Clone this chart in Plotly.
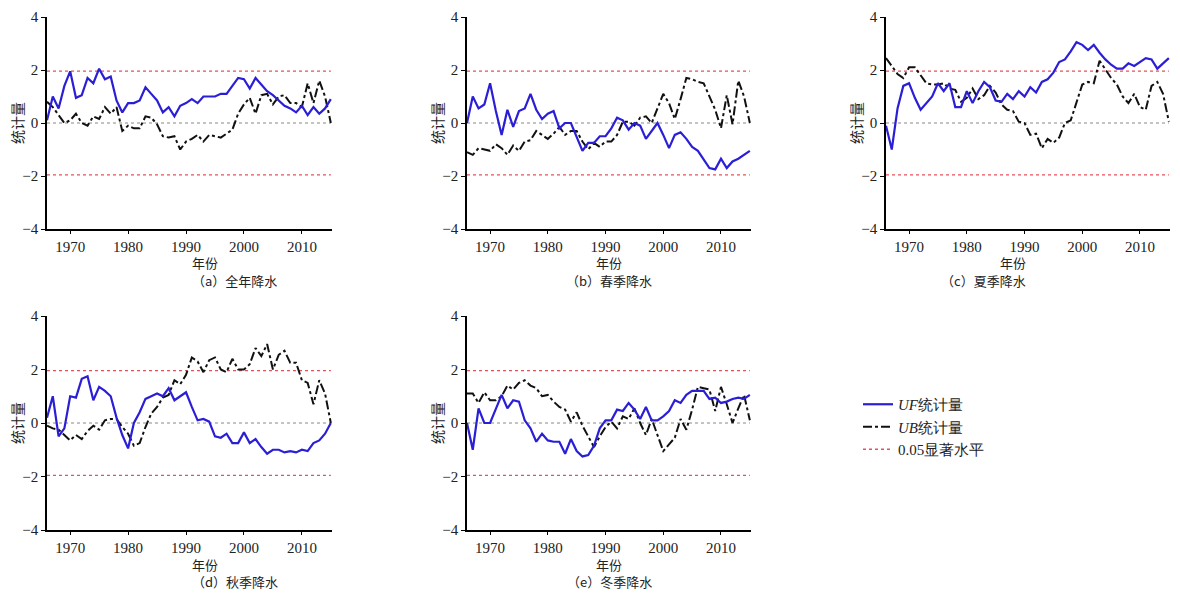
import plotly.graph_objects as go

years = list(range(1966, 2016))

uf_a = [0.1, 1.0, 0.55, 1.4, 1.95, 0.95, 1.05, 1.7, 1.5, 2.05, 1.65, 1.75, 0.85, 0.4, 0.75, 0.75, 0.85, 1.35, 1.1, 0.85,
        0.4, 0.6, 0.25, 0.65, 0.75, 0.9, 0.75, 1.0, 1.0, 1.0, 1.1, 1.1, 1.4, 1.7, 1.65, 1.3, 1.7, 1.45, 1.2, 1.05,
        0.85, 0.65, 0.55, 0.4, 0.65, 0.3, 0.6, 0.35, 0.55, 0.9]
ub_a = [0.8, 0.6, 0.3, 0.0, 0.1, 0.35, 0.0, -0.1, 0.25, 0.15, 0.6, 0.35, 0.6, -0.3, -0.1, -0.2, -0.2, 0.25, 0.2, -0.05,
        -0.5, -0.55, -0.5, -1.0, -0.7, -0.6, -0.45, -0.7, -0.45, -0.5, -0.55, -0.4, -0.25, 0.35, 0.7, 0.95, 0.35, 1.05, 1.1, 0.7,
        1.0, 1.05, 0.75, 0.75, 0.6, 1.5, 0.75, 1.6, 1.0, 0.0]

uf_b = [0.0, 1.0, 0.55, 0.7, 1.5, 0.45, -0.45, 0.5, -0.15, 0.45, 0.55, 1.1, 0.5, 0.15, 0.35, 0.45, -0.2, 0.0, 0.0, -0.5,
        -1.05, -0.75, -0.75, -0.5, -0.5, -0.2, 0.2, 0.1, -0.25, 0.0, -0.1, -0.6, -0.3, 0.0, -0.45, -0.95, -0.45, -0.35, -0.6, -0.9,
        -1.05, -1.4, -1.7, -1.75, -1.35, -1.7, -1.45, -1.35, -1.2, -1.05]
ub_b = [-1.1, -1.2, -0.95, -1.0, -1.05, -0.8, -0.95, -1.2, -0.85, -1.05, -0.7, -0.65, -0.3, -0.45, -0.6, -0.4, -0.15, -0.45, -0.3, -0.3,
        -0.7, -1.0, -0.75, -0.9, -0.7, -0.7, -0.45, 0.05, 0.05, -0.1, 0.2, 0.25, 0.0, 0.55, 1.1, 0.75, 0.15, 0.9, 1.7, 1.65,
        1.55, 1.5, 1.0, 0.5, -0.2, 1.05, -0.05, 1.6, 1.0, 0.0]

uf_c = [-0.1, -1.0, 0.55, 1.4, 1.5, 0.95, 0.5, 0.75, 1.0, 1.5, 1.2, 1.5, 0.6, 0.6, 1.2, 0.75, 1.2, 1.55, 1.35, 0.85,
        0.8, 1.1, 0.9, 1.2, 1.0, 1.35, 1.15, 1.55, 1.65, 1.9, 2.3, 2.4, 2.7, 3.05, 2.95, 2.75, 2.95, 2.65, 2.4, 2.2,
        2.05, 2.05, 2.25, 2.15, 2.3, 2.45, 2.4, 2.05, 2.25, 2.45]
ub_c = [2.45, 2.15, 1.85, 1.7, 2.1, 2.1, 1.8, 1.5, 1.45, 1.45, 1.5, 1.3, 1.25, 0.8, 0.95, 1.3, 0.9, 1.05, 1.4, 1.15,
        0.7, 0.5, 0.45, 0.05, 0.0, -0.45, -0.4, -0.95, -0.6, -0.75, -0.55, 0.0, 0.1, 0.75, 1.45, 1.55, 1.5, 2.35, 2.0, 1.7,
        1.45, 1.0, 0.75, 1.1, 0.6, 0.5, 1.4, 1.55, 1.1, 0.05]

uf_d = [0.2, 1.0, -0.5, -0.2, 1.0, 0.95, 1.65, 1.75, 0.85, 1.35, 1.2, 1.0, 0.2, -0.45, -0.95, 0.0, 0.4, 0.9, 1.0, 1.1,
        1.0, 1.3, 0.85, 1.0, 1.15, 0.6, 0.1, 0.15, 0.05, -0.5, -0.55, -0.4, -0.75, -0.75, -0.35, -0.75, -0.6, -0.9, -1.15, -1.0,
        -1.0, -1.1, -1.05, -1.1, -1.0, -1.05, -0.75, -0.65, -0.4, 0.0]
ub_d = [-0.1, -0.2, -0.25, -0.45, -0.65, -0.45, -0.6, -0.3, -0.1, -0.25, 0.1, 0.15, 0.15, -0.15, -0.4, -0.85, -0.75, -0.15, 0.35, 0.6,
        0.95, 1.05, 1.6, 1.45, 1.8, 2.45, 2.3, 1.9, 2.35, 2.45, 2.0, 1.9, 2.4, 2.0, 2.0, 2.2, 2.8, 2.5, 2.95, 2.0,
        2.55, 2.7, 2.25, 2.25, 1.6, 1.5, 0.7, 1.6, 1.1, 0.0]

uf_e = [0.0, -1.0, 0.55, 0.0, 0.0, 0.5, 1.05, 0.55, 0.85, 0.8, 0.1, -0.2, -0.7, -0.4, -0.65, -0.7, -0.7, -1.15, -0.6, -1.05,
        -1.25, -1.2, -0.85, -0.2, 0.1, 0.1, 0.5, 0.45, 0.75, 0.5, 0.15, 0.6, 0.1, 0.1, 0.25, 0.45, 0.85, 0.75, 1.05, 1.2,
        1.2, 1.2, 0.9, 0.95, 0.75, 0.8, 0.9, 0.95, 0.9, 1.05]
ub_e = [1.1, 1.1, 0.75, 1.15, 0.85, 0.85, 1.0, 1.4, 1.25, 1.5, 1.6, 1.4, 1.3, 1.0, 1.05, 0.8, 0.6, 0.5, 0.05, 0.4,
        -0.1, -0.5, -0.9, -0.5, -0.15, 0.05, -0.2, 0.25, 0.15, 0.55, 0.0, -0.45, 0.15, -0.45, -1.05, -0.8, -0.55, 0.15, -0.25, 0.5,
        1.35, 1.3, 1.25, 0.45, 1.35, 0.7, 0.0, 0.55, 1.05, 0.1]

captions = ["（a）全年降水", "（b）春季降水", "（c）夏季降水", "（d）秋季降水", "（e）冬季降水"]
uf_all = [uf_a, uf_b, uf_c, uf_d, uf_e]
ub_all = [ub_a, ub_b, ub_c, ub_d, ub_e]
sig_level = 1.96
yticks = [-4, -2, 0, 2, 4]
xticks = [1970, 1980, 1990, 2000, 2010]

# page body has an 8px margin; figure is placed at (8, 8)
OFF = 8
W, H = 1172, 586


def fx(px):
    return (px - OFF) / W


def fy(py):
    return 1 - (py - OFF) / H


# screen pixel boxes: (x0, x1, ytop, ybottom)
boxes = [(47, 332, 17, 229), (467, 751, 17, 229), (886, 1170, 17, 229),
         (47, 332, 316, 530), (467, 751, 316, 530)]

fig = go.Figure()
serif = "Liberation Serif"
cjk = "Noto Sans CJK SC"

for i, (x0, x1, yt, yb) in enumerate(boxes):
    n = "" if i == 0 else str(i + 1)
    xa, ya = "x" + n, "y" + n
    first = i == 0
    fig.add_trace(go.Scatter(x=[years[0], years[-1]], y=[sig_level, sig_level], mode="lines",
                             line=dict(color="#e8505a", width=1.3, dash="dot"), xaxis=xa, yaxis=ya,
                             name="0.05显著水平", showlegend=False, legendrank=3))
    fig.add_trace(go.Scatter(x=[years[0], years[-1]], y=[-sig_level, -sig_level], mode="lines",
                             line=dict(color="#e8505a", width=1.3, dash="dot"), xaxis=xa, yaxis=ya,
                             showlegend=first, name="0.05显著水平", legendrank=3))
    fig.add_trace(go.Scatter(x=[years[0], years[-1]], y=[0, 0], mode="lines",
                             line=dict(color="#888888", width=1, dash="dot"), xaxis=xa, yaxis=ya,
                             showlegend=False))
    fig.add_trace(go.Scatter(x=years, y=ub_all[i], mode="lines",
                             line=dict(color="#111111", width=2, dash="dashdot"), xaxis=xa, yaxis=ya,
                             showlegend=first, name="<i>UB</i>统计量", legendrank=2))
    fig.add_trace(go.Scatter(x=years, y=uf_all[i], mode="lines",
                             line=dict(color="#2b1fd6", width=2.2), xaxis=xa, yaxis=ya,
                             showlegend=first, name="<i>UF</i>统计量", legendrank=1))
    fig.layout["xaxis" + n] = dict(domain=[fx(x0), fx(x1)], range=[1966, 2015.2], anchor=ya, tickvals=xticks,
                                    showline=True, linecolor="black", linewidth=1.5, ticks="outside",
                                    ticklen=3, tickcolor="black", showgrid=False, zeroline=False,
                                    automargin=False, ticklabeloverflow="allow",
                                    tickfont=dict(family=serif, size=15, color="#222"))
    fig.layout["yaxis" + n] = dict(domain=[fy(yb), fy(yt)], range=[-4, 4], anchor=xa, tickvals=yticks,
                                    ticktext=["−4", "−2", "0", "2", "4"],
                                    showline=True, linecolor="black", linewidth=1.5, ticks="outside",
                                    ticklen=4, tickcolor="black", showgrid=False, zeroline=False,
                                    automargin=False, ticklabeloverflow="allow",
                                    tickfont=dict(family=serif, size=15, color="#222"))
    cx = fx((x0 + x1) / 2)
    fig.add_annotation(text="年份", x=cx, y=fy(yb + 34), xref="paper", yref="paper",
                       showarrow=False, font=dict(family=cjk, size=13, color="#222"), yanchor="middle")
    fig.add_annotation(text=captions[i], x=cx, y=fy(yb + 51), xref="paper", yref="paper",
                       showarrow=False, font=dict(family=cjk, size=13, color="#222"), yanchor="middle")
    fig.add_annotation(text="统计量", x=fx(x0 - 30), y=fy((yt + yb) / 2), xref="paper", yref="paper",
                       showarrow=False, textangle=-90, font=dict(family=cjk, size=14, color="#222"),
                       xanchor="center", yanchor="middle")

fig.update_layout(width=W, height=H, margin=dict(l=0, r=0, t=0, b=0, autoexpand=False),
                  plot_bgcolor="white", paper_bgcolor="white",
                  legend=dict(x=fx(858), y=fy(388), xanchor="left", yanchor="top",
                              font=dict(family=serif, size=15, color="#222"),
                              bgcolor="rgba(0,0,0,0)", tracegroupgap=0, itemwidth=30))

fig.write_html("out.html")
